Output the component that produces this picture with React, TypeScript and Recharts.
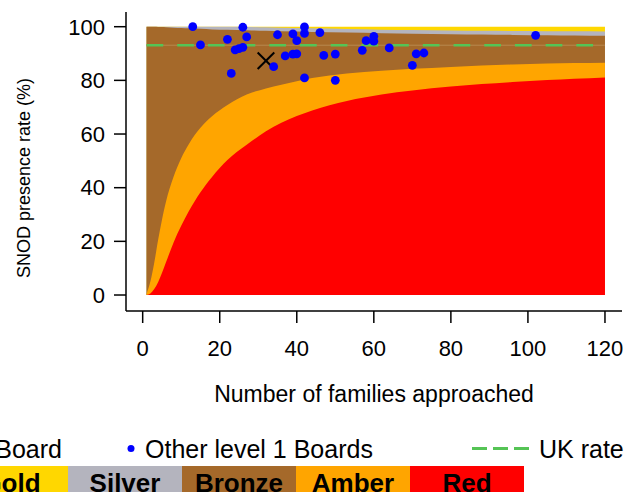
import React from 'react';
import {
  ComposedChart, Area, Scatter, XAxis, YAxis, ReferenceLine, Label,
} from 'recharts';

// ---- Funnel band boundaries ----
const bandX = [1, 2, 3, 4, 5, 6, 8, 10, 12, 15, 18, 22, 27, 32, 36, 44, 53, 62, 70, 80, 88, 96, 105, 112, 120];
const redTop = [0, 0.6, 2.2, 4.8, 8.2, 12, 19.5, 25.8, 31.3, 38.3, 44.0, 50.3, 56.0, 61.0, 64.2, 68.8, 72.3, 74.7, 76.2, 77.7, 78.6, 79.4, 80.1, 80.6, 81.1];
const amberTop = [0.5, 5, 12, 20.5, 28, 34.5, 44, 51, 56.3, 62.3, 66.6, 70.8, 74.7, 77.0, 78.4, 80.9, 82.6, 83.6, 84.3, 85.0, 85.5, 85.9, 86.25, 86.45, 86.6];
const bronzeTop = [100, 100, 99.95, 99.9, 99.85, 99.8, 99.65, 99.5, 99.4, 99.2, 99.0, 98.85, 98.65, 98.45, 98.3, 98.05, 97.8, 97.55, 97.4, 97.2, 97.05, 96.95, 96.8, 96.7, 96.6];
const silverTop = [100, 100, 100, 100, 100, 100, 100, 100, 100, 100, 100, 99.98, 99.9, 99.75, 99.65, 99.4, 99.15, 98.9, 98.75, 98.6, 98.5, 98.42, 98.35, 98.28, 98.2];
const goldTop = [100, 100, 100, 100, 100, 100, 100, 100, 100, 100, 100, 100, 100, 100, 100, 100, 100, 100, 100, 100, 100, 100, 100, 100, 100];

// ---- Other level 1 Boards ----
const boardFamilies = [13, 15, 22, 23, 26, 27, 24, 25, 26, 34, 35, 37, 39, 40, 39, 40, 42, 42, 42, 46, 47, 50, 50, 57, 58, 60, 60, 64, 71, 73, 70, 102];
const boardRates = [100, 93.2, 95.3, 82.6, 99.8, 96.2, 91.4, 91.8, 92.3, 85.1, 97.0, 89.1, 97.3, 94.8, 89.8, 89.9, 99.9, 97.5, 80.9, 97.8, 89.3, 89.8, 80.0, 91.2, 94.8, 96.4, 94.6, 92.1, 89.9, 90.2, 85.6, 96.8];

// ---- This Board ----
const thisBoardFamilies = [32];
const thisBoardRates = [87.3];

const ukRate = 93.1;

const xTicks = [0, 20, 40, 60, 80, 100, 120];
const yTicks = [0, 20, 40, 60, 80, 100];

const legendBands = ['Gold', 'Silver', 'Bronze', 'Amber', 'Red'];
const bandColors = {
  Gold: '#FFD700',
  Silver: '#B4B4BE',
  Bronze: '#A5692A',
  Amber: '#FFA500',
  Red: '#FF0000',
};

const bandData = bandX.map((x, i) => ({
  x,
  gold: goldTop[i],
  silver: silverTop[i],
  bronze: bronzeTop[i],
  amber: amberTop[i],
  red: redTop[i],
}));
const boardData = boardFamilies.map((n, i) => ({ x: n, y: boardRates[i] }));
const thisBoardData = thisBoardFamilies.map((n, i) => ({ x: n, y: thisBoardRates[i] }));

const FONT = '"Liberation Sans", Arial, Helvetica, sans-serif';

const Dot = (p: any) => <circle cx={p.cx} cy={p.cy} r={4.4} fill="#0000FF" />;
const Cross = (p: any) => (
  <g stroke="#000" strokeWidth={2}>
    <line x1={p.cx - 8.3} y1={p.cy - 8.3} x2={p.cx + 8.3} y2={p.cy + 8.3} />
    <line x1={p.cx - 8.3} y1={p.cy + 8.3} x2={p.cx + 8.3} y2={p.cy - 8.3} />
  </g>
);

const YTitle = () => (
  <text
    x={24}
    y={178}
    transform="rotate(-90, 24, 178)"
    textAnchor="middle"
    dominantBaseline="central"
    fontSize={18}
    fontFamily={FONT}
    fill="#000"
  >
    SNOD presence rate (%)
  </text>
);

export default function App() {
  const boxW = 114;
  const boxStart = -46;
  return (
    <div style={{ position: 'absolute', left: 0, top: 0, width: 627, height: 492, overflow: 'hidden', background: '#fff' }}>
      <ComposedChart
        width={627}
        height={492}
        data={bandData}
        margin={{ top: 12, right: 5, bottom: 0, left: 0 }}
        style={{ fontFamily: FONT }}
      >
        <XAxis
          type="number"
          dataKey="x"
          domain={[-4.33, 124.42]}
          allowDataOverflow
          ticks={xTicks}
          interval={0}
          height={181}
          tickSize={12}
          tickMargin={17}
          axisLine={{ stroke: '#000', strokeWidth: 1.5 }}
          tickLine={{ stroke: '#000', strokeWidth: 1.5 }}
          tick={{ fontSize: 22, fill: '#000', fontFamily: FONT }}
        >
          <Label
            value="Number of families approached"
            position="insideTop"
            offset={75}
            style={{ fontSize: 23, fill: '#000', fontFamily: FONT }}
          />
        </XAxis>
        <YAxis
          type="number"
          domain={[-5.96, 105.48]}
          allowDataOverflow
          ticks={yTicks}
          interval={0}
          width={126}
          tickSize={12}
          tickMargin={9}
          axisLine={{ stroke: '#000', strokeWidth: 1.5 }}
          tickLine={{ stroke: '#000', strokeWidth: 1.5 }}
          tick={{ fontSize: 22, fill: '#000', fontFamily: FONT }}
        >
          <Label content={() => <YTitle />} />
        </YAxis>
        <Area type="monotone" dataKey="gold" baseValue={0} stroke="none" fill={bandColors.Gold} fillOpacity={1} isAnimationActive={false} dot={false} activeDot={false} />
        <Area type="monotone" dataKey="silver" baseValue={0} stroke="none" fill={bandColors.Silver} fillOpacity={1} isAnimationActive={false} dot={false} activeDot={false} />
        <Area type="monotone" dataKey="bronze" baseValue={0} stroke="none" fill={bandColors.Bronze} fillOpacity={1} isAnimationActive={false} dot={false} activeDot={false} />
        <Area type="monotone" dataKey="amber" baseValue={0} stroke="none" fill={bandColors.Amber} fillOpacity={1} isAnimationActive={false} dot={false} activeDot={false} />
        <Area type="monotone" dataKey="red" baseValue={0} stroke="none" fill={bandColors.Red} fillOpacity={1} isAnimationActive={false} dot={false} activeDot={false} />
        <ReferenceLine
          segment={[{ x: 1, y: ukRate }, { x: 120, y: ukRate }]}
          stroke="#B8884F"
          strokeWidth={1}
          ifOverflow="visible"
        />
        <ReferenceLine
          segment={[{ x: 1, y: ukRate }, { x: 120, y: ukRate }]}
          stroke="#55C455"
          strokeWidth={2.6}
          strokeDasharray="16.7 14"
          ifOverflow="visible"
        />
        <Scatter data={thisBoardData} dataKey="y" shape={<Cross />} isAnimationActive={false} />
        <Scatter data={boardData} dataKey="y" shape={<Dot />} isAnimationActive={false} />
      </ComposedChart>

      <svg
        width={627}
        height={492}
        style={{ position: 'absolute', left: 0, top: 0, pointerEvents: 'none' }}
        fontFamily={FONT}
      >
        <text x={62} y={458} textAnchor="end" fontSize={25} fill="#000">Board</text>
        <circle cx={131} cy={448.5} r={3.5} fill="#0000FF" />
        <text x={145} y={458} fontSize={25} fill="#000">Other level 1 Boards</text>
        <line x1={472} y1={448.5} x2={529} y2={448.5} stroke="#55C455" strokeWidth={3} strokeDasharray="15 6" />
        <text x={539} y={458} fontSize={25} fill="#000">UK rate</text>
        {legendBands.map((b, i) => (
          <g key={b}>
            <rect x={boxStart + i * boxW} y={466} width={boxW} height={30} fill={(bandColors as any)[b]} />
            <text
              x={boxStart + i * boxW + boxW / 2}
              y={492}
              textAnchor="middle"
              fontSize={26}
              fontWeight="bold"
              fill="#000"
            >
              {b}
            </text>
          </g>
        ))}
      </svg>
    </div>
  );
}
